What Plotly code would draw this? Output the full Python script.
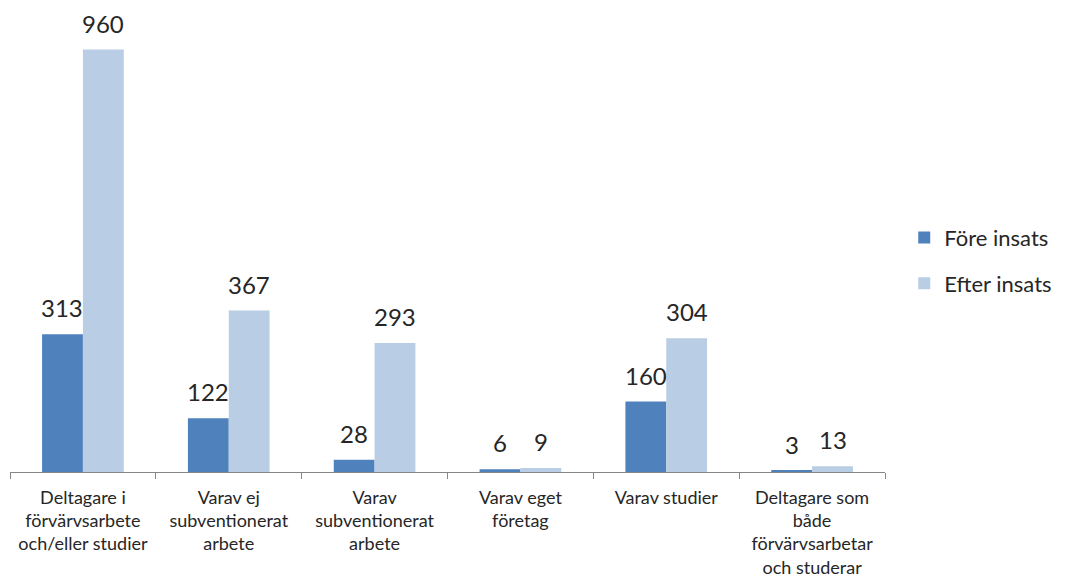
import plotly.graph_objects as go

categories = [
    "Deltagare i<br>förvärvsarbete<br>och/eller studier",
    "Varav ej<br>subventionerat<br>arbete",
    "Varav<br>subventionerat<br>arbete",
    "Varav eget<br>företag",
    "Varav studier",
    "Deltagare som<br>både<br>förvärvsarbetar<br>och studerar",
]
fore = [313, 122, 28, 6, 160, 3]
efter = [960, 367, 293, 9, 304, 13]
series_names = ["Före insats", "Efter insats"]
colors = ["#4F81BD", "#B9CDE5"]

FONT = "Lato"
TEXTCOL = "#262626"

fig = go.Figure()
for i, (name, vals, col) in enumerate(zip(series_names, [fore, efter], colors)):
    fig.add_trace(go.Bar(
        x=categories, y=vals, name=name, marker_color=col,
        marker_line_width=0, legendgroup=name,
    ))

annotations = []
for vals, shift in [(fore, -20.5), (efter, 20.5)]:
    for c, v in zip(categories, vals):
        annotations.append(dict(
            x=c, y=v, text=str(v), showarrow=False, xshift=shift, yshift=10,
            yanchor="bottom", font=dict(family=FONT, size=24, color=TEXTCOL),
        ))

fig.update_layout(
    width=1065, height=583,
    margin=dict(l=2, r=188, t=24, b=119),
    paper_bgcolor="white", plot_bgcolor="white",
    barmode="group", bargap=0.44, bargroupgap=0,
    font=dict(family=FONT, size=18, color=TEXTCOL),
    annotations=annotations,
    legend=dict(
        x=1.022, y=0.58, xanchor="left", yanchor="top",
        traceorder="grouped", tracegroupgap=14,
        font=dict(family=FONT, size=22, color=TEXTCOL),
    ),
    xaxis=dict(
        showline=True, linecolor="#868686", linewidth=1,
        ticks="outside", tickcolor="#868686", ticklen=6,
        tickson="boundaries", showgrid=False, ticklabelstandoff=9,
        tickfont=dict(family=FONT, size=18, color=TEXTCOL),
    ),
    yaxis=dict(range=[0, 1000], visible=False, showgrid=False),
)

fig.write_html("out.html")
